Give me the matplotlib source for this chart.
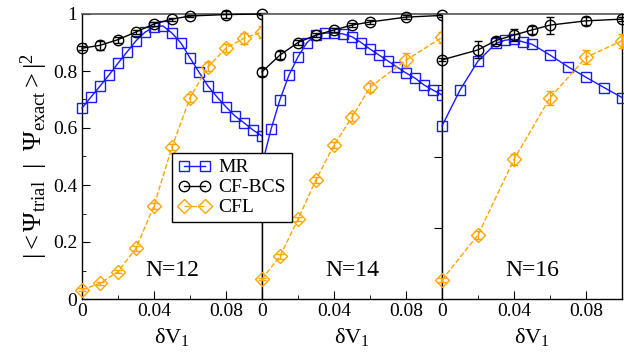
import matplotlib
matplotlib.use("Agg")
import matplotlib.pyplot as plt
from matplotlib.ticker import MultipleLocator, FixedLocator

plt.rcParams['font.family'] = ['Liberation Serif', 'DejaVu Serif']
plt.rcParams['mathtext.fontset'] = 'custom'
plt.rcParams['mathtext.rm'] = 'Liberation Serif'
plt.rcParams['mathtext.it'] = 'Liberation Serif:italic'

# ---- N=12 ----
x12_mr = [0, .005, .01, .015, .02, .025, .03, .035, .04, .045, .05,
          .055, .06, .065, .07, .075, .08, .085, .09, .095, .1]
mr12 = [0.67, 0.709, 0.747, 0.786, 0.827, 0.867, 0.906, 0.936, 0.955, 0.958, 0.933,
        0.898, 0.846, 0.796, 0.747, 0.709, 0.674, 0.642, 0.618, 0.593, 0.572]
x12_bcs = [0, .01, .02, .03, .04, .05, .06, .08, .1]
bcs12 = [0.88, 0.89, 0.91, 0.937, 0.965, 0.982, 0.993, 0.998, 1.0]
bcs12_err = [0.008, 0.015, 0.01, 0.008, 0.008, 0.005, 0.005, 0.012, 0.005]
x12_cfl = [0, .01, .02, .03, .04, .05, .06, .07, .08, .09, .1]
cfl12 = [0.032, 0.055, 0.096, 0.178, 0.327, 0.533, 0.706, 0.815, 0.88, 0.915, 0.937]
cfl12_err = [0.005, 0.005, 0.005, 0.008, 0.01, 0.01, 0.015, 0.015, 0.015, 0.02, 0.02]

# ---- N=14 ----
x14_mr = [0, .005, .01, .015, .02, .025, .03, .035, .04, .045, .05,
          .055, .06, .065, .07, .075, .08, .085, .09, .095, .1]
mr14 = [0.47, 0.595, 0.70, 0.786, 0.85, 0.90, 0.926, 0.933, 0.933, 0.93, 0.92,
        0.90, 0.877, 0.856, 0.835, 0.814, 0.793, 0.775, 0.751, 0.733, 0.716]
x14_bcs = [0, .01, .02, .03, .04, .05, .06, .08, .1]
bcs14 = [0.797, 0.856, 0.90, 0.926, 0.944, 0.961, 0.972, 0.989, 0.995]
bcs14_err = [0.015, 0.015, 0.008, 0.008, 0.008, 0.008, 0.008, 0.008, 0.005]
x14_cfl = [0, .01, .02, .03, .04, .05, .06, .08, .1]
cfl14 = [0.07, 0.15, 0.28, 0.418, 0.54, 0.638, 0.743, 0.838, 0.918]
cfl14_err = [0.005, 0.008, 0.008, 0.01, 0.01, 0.015, 0.015, 0.025, 0.02]

# ---- N=16 ----
x16_mr = [0, .01, .02, .03, .035, .04, .045, .05, .06, .07, .08, .09, .1]
mr16 = [0.607, 0.733, 0.835, 0.897, 0.908, 0.912, 0.902, 0.894, 0.856, 0.815, 0.778, 0.742, 0.707]
x16_bcs = [0, .02, .03, .04, .05, .06, .08, .1]
bcs16 = [0.839, 0.874, 0.907, 0.926, 0.944, 0.961, 0.976, 0.982]
bcs16_err = [0.005, 0.03, 0.012, 0.02, 0.015, 0.03, 0.015, 0.008]
x16_cfl = [0, .02, .04, .06, .08, .1]
cfl16 = [0.067, 0.225, 0.49, 0.706, 0.848, 0.906]
cfl16_err = [0.008, 0.015, 0.02, 0.025, 0.025, 0.025]

panels = [
    ("N=12", x12_mr, mr12, x12_bcs, bcs12, bcs12_err, x12_cfl, cfl12, cfl12_err),
    ("N=14", x14_mr, mr14, x14_bcs, bcs14, bcs14_err, x14_cfl, cfl14, cfl14_err),
    ("N=16", x16_mr, mr16, x16_bcs, bcs16, bcs16_err, x16_cfl, cfl16, cfl16_err),
]

blue = '#1a1aff'
orange = '#ffa500'

fig = plt.figure(figsize=(6.24, 3.54), dpi=100)
left0 = 82 / 624
w = 180 / 624
bottom = 1 - 299 / 354
h = 285 / 354

handles = None
for i, (name, xm, ym, xb, yb, eb, xc, yc, ec) in enumerate(panels):
    ax = fig.add_axes([left0 + i * w, bottom, w, h])
    hm, = ax.plot(xm, ym, color=blue, lw=1, marker='s', ms=7.5, mfc='none',
                  mec=blue, mew=1, clip_on=False, label='MR', zorder=3)
    hb, = ax.plot(xb, yb, color='black', lw=1, marker='o', ms=7.5, mfc='none',
                  mec='black', mew=1, clip_on=False, label='CF-BCS', zorder=3)
    ax.errorbar(xb, yb, yerr=eb, fmt='none', ecolor='black', elinewidth=1,
                capsize=3, capthick=1, clip_on=False, zorder=3)
    hc, = ax.plot(xc, yc, color=orange, lw=1, ls='--', marker='D', ms=7.5,
                  mfc='none', mec=orange, mew=1, clip_on=False, label='CFL', zorder=3)
    ax.errorbar(xc, yc, yerr=ec, fmt='none', ecolor=orange, elinewidth=1,
                capsize=3, capthick=1, clip_on=False, zorder=3)
    if handles is None:
        handles = [hm, hb, hc]

    ax.set_xlim(0, 0.1)
    ax.set_ylim(0, 1)
    ax.xaxis.set_major_locator(FixedLocator([0, 0.04, 0.08]))
    ax.xaxis.set_minor_locator(FixedLocator([0.02, 0.06, 0.1]))
    ax.set_xticklabels(['0', '0.04', '0.08'])
    ax.tick_params(axis='x', which='both', direction='in', top=False, labelsize=14, pad=3)
    ax.tick_params(axis='x', which='major', length=6)
    ax.tick_params(axis='x', which='minor', length=3)
    ax.set_xlabel(r'$\mathrm{\delta V}_1$', fontsize=16, labelpad=4)
    ax.text(0.05, 0.1, name, ha='center', va='center', fontsize=17)

    if i == 0:
        ax.yaxis.set_major_locator(MultipleLocator(0.2))
        ax.yaxis.set_minor_locator(MultipleLocator(0.1))
        ax.yaxis.set_major_formatter(matplotlib.ticker.FuncFormatter(
            lambda v, p: '%g' % round(v, 1)))
        ax.tick_params(axis='y', which='both', direction='in', right=False, labelsize=14)
        ax.tick_params(axis='y', which='major', length=6)
        ax.tick_params(axis='y', which='minor', length=3)
        ax.set_ylabel(r'$|\mathrm{<\Psi_{trial}}\ \ |\ \ \mathrm{\Psi_{exact}>}|^2$',
                      fontsize=19, labelpad=2)
    elif i == 1:
        ax.yaxis.set_major_locator(FixedLocator([0.25, 0.5, 0.75]))
        ax.tick_params(axis='y', which='major', direction='in', left=False,
                       right=True, labelleft=False, length=6)
        ax.yaxis.set_minor_locator(FixedLocator([]))
    else:
        ax.set_yticks([])

    for s in ['left', 'right', 'bottom']:
        ax.spines[s].set_linewidth(1)
        ax.spines[s].set_color('black')
    ax.spines['top'].set_color('#555555')
    ax.spines['top'].set_linewidth(1.2)

fig.legend(handles=handles, labels=['MR', 'CF-BCS', 'CFL'], loc='upper left',
           bbox_to_anchor=(172 / 624, 1 - 153 / 354), borderaxespad=0,
           fancybox=False, edgecolor='black', framealpha=1, fontsize=14,
           numpoints=2, handlelength=1.7, handletextpad=0.4,
           labelspacing=0.12, borderpad=0.3)

fig.savefig('out.png', dpi=100)
